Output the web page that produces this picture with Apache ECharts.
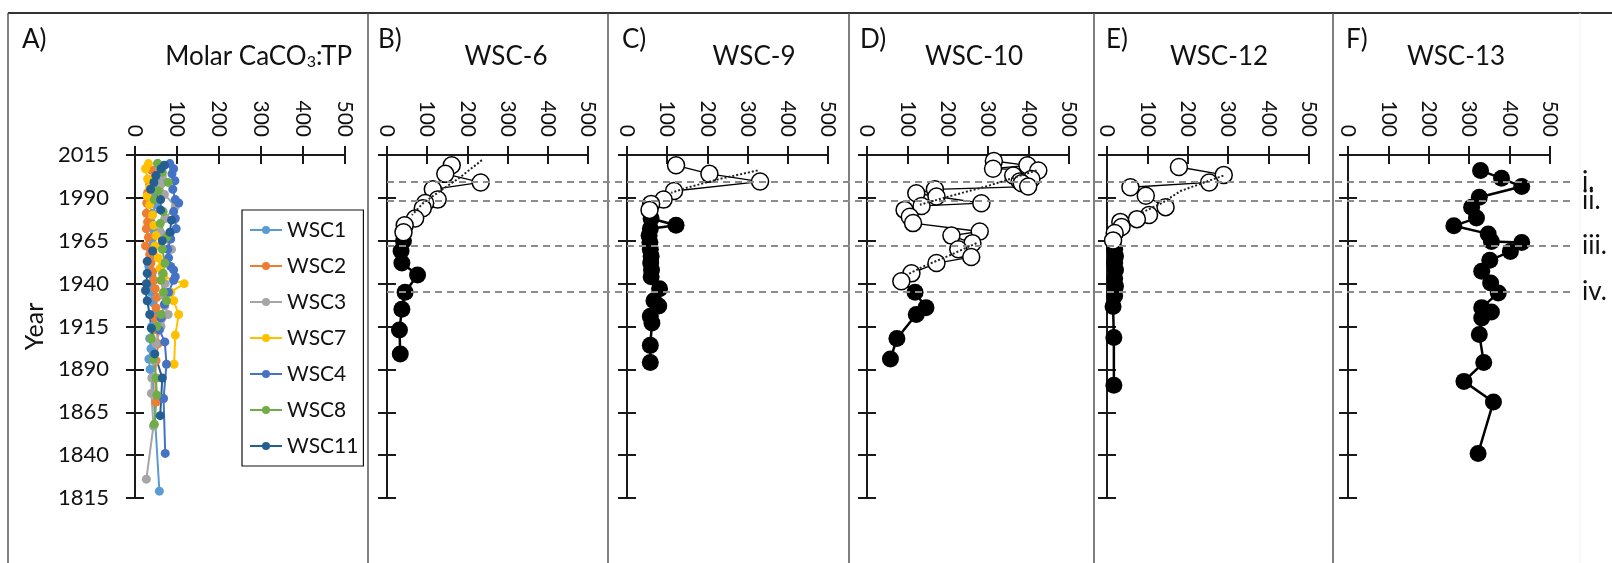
<!DOCTYPE html>
<html><head><meta charset="utf-8">
<script src="https://cdn.jsdelivr.net/npm/echarts@6.0.0/dist/echarts.min.js"></script>
<style>html,body{margin:0;padding:0;background:#fff}#c{width:1612px;height:563px}</style>
</head><body><div id="c"></div>
<script>
const FONT = 'Lato';
// ---- axis / label definitions ----
const xMin = 0, xMax = 500, xStep = 100;
const yearMin = 1815, yearMax = 2015, yearStep = 25;
const refYears = [1999.5, 1988.3, 1962.3, 1935.2];
const refLabels = ['i.', 'ii.', 'iii.', 'iv.'];
const panelLetters = ['A)', 'B)', 'C)', 'D)', 'E)', 'F)'];
const panelTitles = ['', 'WSC-6', 'WSC-9', 'WSC-10', 'WSC-12', 'WSC-13'];
const legendNames = ['WSC1', 'WSC2', 'WSC3', 'WSC7', 'WSC4', 'WSC8', 'WSC11'];
const legendColors = ['#5B9BD5', '#ED7D31', '#A5A5A5', '#FFC000', '#4472C4', '#70AD47', '#255E91'];

// ---- Panel A data: [molar CaCO3:TP, year] ----
const wsc1 = [[54,2010],[48,2006],[61,2001],[45,1996],[40,1991],[50,1986],[42,1981],[38,1976],[45,1971],[40,1966],[35,1961],[38,1955],[33,1950],[40,1945],[35,1940],[38,1935],[42,1929],[45,1922],[40,1915],[35,1908],[38,1902],[33,1896],[36,1890],[42,1885],[58,1819]];
const wsc2 = [[40,2006],[47,2002],[35,1998],[30,1993],[28,1987],[27,1981],[30,1976],[27,1972],[32,1967],[25,1962],[35,1957],[38,1952],[42,1947],[45,1942],[48,1937],[52,1932],[50,1926],[47,1920],[52,1913],[55,1905],[50,1895],[48,1885],[50,1871]];
const wsc3 = [[58,2008],[65,2003],[62,1998],[70,1992],[96,1985],[72,1978],[60,1970],[87,1960],[75,1953],[65,1946],[72,1940],[68,1933],[71,1927],[79,1922],[62,1915],[50,1905],[45,1895],[40,1885],[39,1876],[44,1857],[27,1826]];
const wsc7 = [[32,2010],[25,2007],[30,2001],[35,1996],[29,1991],[35,1986],[42,1980],[45,1974],[50,1968],[48,1962],[55,1955],[60,1949],[68,1944],[117,1940],[85,1935],[92,1930],[104,1922],[96,1910],[93,1893]];
const wsc4 = [[83,2010],[92,2007],[88,2004],[95,2000],[90,1995],[96,1989],[104,1987],[92,1982],[96,1978],[98,1972],[85,1966],[78,1960],[80,1955],[85,1950],[92,1948],[96,1944],[92,1942],[80,1935],[70,1928],[62,1920],[58,1913],[71,1906],[75,1893],[68,1873],[72,1841]];
const wsc8 = [[54,2010],[65,2005],[79,1999],[55,1994],[46,1989],[67,1982],[60,1975],[75,1967],[65,1960],[71,1952],[67,1946],[62,1942],[68,1935],[75,1930],[62,1922],[52,1915],[39,1908],[44,1896],[50,1885],[52,1875],[46,1858]];
const wsc11 = [[70,2009],[62,2007],[50,2003],[45,1999],[37,1995],[61,1989],[61,1983],[87,1977],[83,1970],[65,1965],[42,1959],[29,1953],[29,1946],[27,1940],[25,1936],[29,1930],[35,1922],[39,1914],[47,1899],[65,1885],[60,1863]];
const panelAData = [wsc1, wsc2, wsc3, wsc7, wsc4, wsc8, wsc11];

// ---- Panels B-F: open circles, filled circles, dotted trends ----
const wsc6Open = [[161,2009],[145,2004],[233,1999],[114,1995],[126,1989],[95,1987],[89,1984],[70,1978],[44,1974],[41,1970]];
const wsc6Filled = [[41,1965],[35,1959],[37,1952],[76,1945],[45,1935],[37,1925],[31,1913],[33,1899]];
const wsc6Trend = [[236,2012],[182,2002],[132,1994],[90,1987],[62,1980]];

const wsc9Open = [[122,2009],[205,2004],[331,1999.5],[117,1994],[91,1989],[60,1986.5],[56,1983]];
const wsc9Filled = [[60,1978],[122,1974],[58,1972],[55,1968],[57,1964],[58,1960],[60,1956],[59,1952],[61,1948],[60,1944],[81,1937],[67,1930],[79,1927],[58,1921],[62,1917],[58,1904],[58,1894]];
const wsc9Trend = [[325,2006],[230,2001],[150,1996],[110,1993]];

const wsc10Open = [[314,2011.5],[397,2009],[312,2007],[424,2006],[362,2003],[407,2001],[378,1999.5],[383,1998.5],[399,1996.6],[168,1995],[122,1992.7],[172,1990.8],[283,1986.9],[135,1985.3],[93,1983],[106,1979],[114,1975.3],[279,1970.4],[209,1968],[261,1963.6],[226,1960],[258,1955.5],[172,1952],[110,1946],[85,1941.4]];
const wsc10Filled = [[119,1935],[146,1926],[122,1922],[74,1908],[58,1896]];
const wsc10TrendA = [[420,2006],[300,1997],[205,1991],[131,1986]];
const wsc10TrendB = [[271,1963.6],[200,1956],[139,1950],[98,1945]];

const wsc12Open = [[178,2008],[289,2003.4],[253,1999],[58,1996.2],[96,1991.2],[145,1984.6],[104,1980],[74,1977.6],[33,1976],[36,1973],[19,1969.5],[15,1965.2]];
const wsc12Filled = [[19,1960],[21,1956],[19,1952],[21,1948],[19,1943],[21,1938.4],[19,1933],[15,1926.6],[17,1908.6],[17,1880.8]];
const wsc12Trend = [[288,2003],[182,1994],[136,1987],[83,1981]];

const wsc13Open = [];
const wsc13Filled = [[328,2006],[380,2001.4],[430,1996.6],[325,1990.4],[306,1984.6],[318,1978.2],[262,1973.7],[347,1969],[355,1964.6],[430,1964],[402,1958.8],[351,1953.6],[331,1947.2],[353,1940.4],[372,1934.6],[331,1926],[355,1923.5],[331,1920],[325,1910.4],[336,1894],[287,1883],[360,1871],[322,1841]];

const panels = [
  null,
  {open: wsc6Open, filled: wsc6Filled, trends: [wsc6Trend]},
  {open: wsc9Open, filled: wsc9Filled, trends: [wsc9Trend]},
  {open: wsc10Open, filled: wsc10Filled, trends: [wsc10TrendA, wsc10TrendB]},
  {open: wsc12Open, filled: wsc12Filled, trends: [wsc12Trend]},
  {open: wsc13Open, filled: wsc13Filled, trends: []}
];

// ---- layout ----
const gridLeft = [135, 387, 627, 867, 1107, 1348];
const gridWidth = [210, 201, 201, 202, 202, 202];
const gridTop = 155, gridHeight = 343;
const letterX = [22, 378, 622, 860, 1106, 1346];
const titleX = [0, 506, 754, 974, 1219, 1456];
const dividers = [368, 608, 849, 1094, 1333];

const axisColor = '#1a1a1a';
const grids = [], xAxes = [], yAxes = [], series = [];

for (let i = 0; i < 6; i++) {
  grids.push({left: gridLeft[i], top: gridTop, width: gridWidth[i], height: gridHeight});
  xAxes.push({
    gridIndex: i, type: 'value', position: 'top', min: xMin, max: xMax, interval: xStep,
    axisLine: {show: true, onZero: false, lineStyle: {color: axisColor, width: 2}},
    axisTick: {show: true, length: 9, lineStyle: {color: axisColor, width: 2}},
    axisLabel: {rotate: 90, margin: 18, fontSize: 21, color: '#111', fontFamily: FONT},
    splitLine: {show: false}
  });
  xAxes.push({
    gridIndex: i, type: 'value', position: 'top', min: xMin, max: xMax, interval: xStep,
    axisLine: {show: false, onZero: false},
    axisTick: {show: true, inside: true, length: 9, lineStyle: {color: axisColor, width: 2}},
    axisLabel: {show: false}, splitLine: {show: false}
  });
  const yMain = {
    gridIndex: i, type: 'value', position: 'left', min: yearMin, max: yearMax, interval: yearStep,
    axisLine: {show: true, onZero: false, lineStyle: {color: axisColor, width: 2}},
    axisTick: {show: true, length: 9, lineStyle: {color: axisColor, width: 2}},
    axisLabel: i === 0 ? {margin: 26, fontSize: 22, color: '#111', fontFamily: FONT, formatter: v => String(v)} : {show: false},
    splitLine: {show: false}
  };
  if (i === 0) {
    yMain.name = 'Year';
    yMain.nameLocation = 'middle';
    yMain.nameRotate = 90;
    yMain.nameGap = 88;
    yMain.nameTextStyle = {fontSize: 25, color: '#111', fontFamily: FONT};
  }
  yAxes.push(yMain);
  yAxes.push({
    gridIndex: i, type: 'value', position: 'left', min: yearMin, max: yearMax, interval: yearStep,
    axisLine: {show: false, onZero: false},
    axisTick: {show: true, inside: true, length: 9, lineStyle: {color: axisColor, width: 2}},
    axisLabel: {show: false}, splitLine: {show: false}
  });
}
// overlay grid for the horizontal dashed reference lines
grids.push({left: 387, top: gridTop, width: 1183, height: gridHeight});
xAxes.push({gridIndex: 6, type: 'value', min: 0, max: 1, show: false});
yAxes.push({gridIndex: 6, type: 'value', min: yearMin, max: yearMax, show: false});

series.push({
  type: 'line', xAxisIndex: 12, yAxisIndex: 12, data: [], silent: true, z: 1,
  markLine: {
    silent: true, symbol: ['none', 'none'], animation: false,
    lineStyle: {type: [7, 5], color: '#8c8c8c', width: 2},
    label: {show: true, position: 'end', distance: 12, formatter: '{b}', fontSize: 26, color: '#111',
      fontFamily: FONT, padding: [0, 0, 8, 0]},
    data: refYears.map((y, k) => ({yAxis: y, name: refLabels[k]}))
  }
});

// Panel A series
panelAData.forEach((d, k) => {
  series.push({
    name: legendNames[k], type: 'line', xAxisIndex: 0, yAxisIndex: 0, data: d,
    symbol: 'circle', symbolSize: 9, showSymbol: true,
    itemStyle: {color: legendColors[k]}, lineStyle: {color: legendColors[k], width: 2}, z: 3
  });
});

// Panels B-F
for (let i = 1; i < 6; i++) {
  const p = panels[i];
  const ax = 2 * i;
  p.trends.forEach(t => series.push({
    type: 'line', xAxisIndex: ax, yAxisIndex: ax, data: t, symbol: 'none',
    lineStyle: {type: 'dotted', width: 2, color: '#222'}, z: 5
  }));
  let fd = p.filled.slice();
  if (p.open.length) fd = [{value: p.open[p.open.length - 1], symbol: 'none'}].concat(fd);
  series.push({
    type: 'line', xAxisIndex: ax, yAxisIndex: ax, data: fd, symbol: 'circle', symbolSize: 17,
    itemStyle: {color: '#000'}, lineStyle: {color: '#000', width: 2.5}, z: 3
  });
  if (p.open.length) series.push({
    type: 'line', xAxisIndex: ax, yAxisIndex: ax, data: p.open, symbol: 'circle', symbolSize: 17,
    itemStyle: {color: '#fff', borderColor: '#000', borderWidth: 1.5},
    lineStyle: {color: '#000', width: 1.3}, z: 4
  });
}

// graphics: frame, panel letters, titles
const graphics = [];
graphics.push({type: 'line', shape: {x1: 8, y1: 13, x2: 1612, y2: 13}, style: {stroke: '#333', lineWidth: 2}});
graphics.push({type: 'line', shape: {x1: 8, y1: 13, x2: 8, y2: 563}, style: {stroke: '#555', lineWidth: 1.5}});
dividers.forEach(x => graphics.push({type: 'line', shape: {x1: x, y1: 13, x2: x, y2: 563}, style: {stroke: '#555', lineWidth: 1.5}}));
graphics.push({type: 'line', shape: {x1: 1580, y1: 13, x2: 1580, y2: 563}, style: {stroke: '#f3f3f3', lineWidth: 1}});
panelLetters.forEach((t, i) => graphics.push({type: 'text', x: letterX[i], y: 40,
  style: {text: t, fontSize: 26, fontFamily: FONT, fill: '#111', verticalAlign: 'middle', align: 'left'}}));
for (let i = 1; i < 6; i++) graphics.push({type: 'text', x: titleX[i], y: 57,
  style: {text: panelTitles[i], fontSize: 26, fontFamily: FONT, fill: '#111', verticalAlign: 'middle', align: 'center'}});
graphics.push({type: 'text', x: 352, y: 55,
  style: {text: '{a|Molar CaCO}{s|3}{a|:TP}', align: 'right', verticalAlign: 'middle', fill: '#111',
    rich: {a: {fontSize: 26, fontFamily: FONT, lineHeight: 30, verticalAlign: 'bottom', fill: '#111'},
           s: {fontSize: 16, fontFamily: FONT, lineHeight: 13, verticalAlign: 'bottom', fill: '#111'}}}});

const chart = echarts.init(document.getElementById('c'), null, {renderer: 'canvas'});
chart.setOption({
  animation: false,
  backgroundColor: '#fff',
  grid: grids, xAxis: xAxes, yAxis: yAxes, series: series,
  legend: {
    data: legendNames, orient: 'vertical', left: 242, top: 210,
    borderColor: '#111', borderWidth: 1.2, padding: [8, 5, 8, 7],
    itemWidth: 32, itemHeight: 10, itemGap: 12,
    textStyle: {fontSize: 21, lineHeight: 24, color: '#111', fontFamily: FONT}
  },
  graphic: graphics
});
</script></body></html>
